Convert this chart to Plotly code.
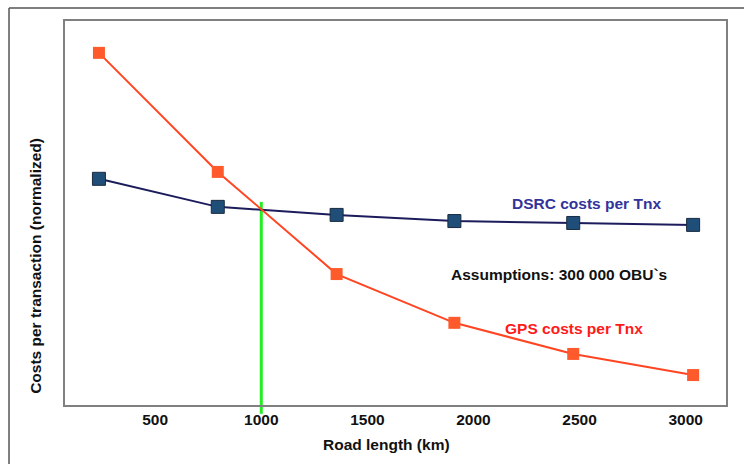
import plotly.graph_objects as go

road_length = [235, 795, 1355, 1910, 2470, 3035]
gps_costs = [91.7, 60.7, 34.1, 21.4, 13.3, 7.8]
dsrc_costs = [58.9, 51.6, 49.5, 47.9, 47.4, 46.9]
x_ticks = [500, 1000, 1500, 2000, 2500, 3000]
breakeven_x = 1000
breakeven_y = 52.9

FONT = "Liberation Sans, Arial, sans-serif"
FS = 15.5

fig = go.Figure()
fig.add_trace(go.Scatter(
    x=road_length, y=dsrc_costs, mode="lines+markers",
    line=dict(color="#1c1c5c", width=2),
    marker=dict(symbol="square", size=13, color="#1f4f78",
                line=dict(color="#1a2a40", width=1)),
    cliponaxis=False, showlegend=False, hoverinfo="skip"))
fig.add_trace(go.Scatter(
    x=road_length, y=gps_costs, mode="lines+markers",
    line=dict(color="#ff4522", width=2),
    marker=dict(symbol="square", size=12, color="#ff5a2c",
                line=dict(color="#ff5a2c", width=0)),
    cliponaxis=False, showlegend=False, hoverinfo="skip"))

# break-even vertical line
fig.add_shape(type="line", xref="x", yref="paper",
              x0=breakeven_x, x1=breakeven_x, y0=-0.023, y1=breakeven_y / 100,
              line=dict(color="#22ee22", width=3), layer="below")

# outer frame
fig.add_shape(type="line", xref="paper", yref="paper", x0=-0.0847, x1=1.03,
              y0=1.0339, y1=1.0339, line=dict(color="#555555", width=1.5))
fig.add_shape(type="line", xref="paper", yref="paper", x0=-0.0847, x1=-0.0847,
              y0=1.0339, y1=-0.16, line=dict(color="#555555", width=1.5))

fig.add_annotation(x=0.789, y=0.525, xref="paper", yref="paper",
                   xanchor="center", yanchor="middle",
                   text="<b>DSRC costs per Tnx</b>", showarrow=False,
                   font=dict(family=FONT, size=FS, color="#33339a"))
fig.add_annotation(x=0.747, y=0.341, xref="paper", yref="paper",
                   xanchor="center", yanchor="middle",
                   text="<b>Assumptions: 300 000 OBU`s</b>", showarrow=False,
                   font=dict(family=FONT, size=FS, color="#111111"))
fig.add_annotation(x=0.770, y=0.198, xref="paper", yref="paper",
                   xanchor="center", yanchor="middle",
                   text="<b>GPS costs per Tnx</b>", showarrow=False,
                   font=dict(family=FONT, size=FS, color="#ff1a1a"))
fig.add_annotation(x=0.486, y=-0.104, xref="paper", yref="paper",
                   xanchor="center", yanchor="middle",
                   text="<b>Road length (km)</b>", showarrow=False,
                   font=dict(family=FONT, size=FS, color="#111111"))
fig.add_annotation(x=-0.045, y=0.363, xref="paper", yref="paper",
                   xanchor="center", yanchor="middle", textangle=-90,
                   text="<b>Costs per transaction (normalized)</b>", showarrow=False,
                   font=dict(family=FONT, size=FS, color="#111111"))

fig.update_layout(
    width=744, height=464,
    margin=dict(l=65, r=18, t=21, b=59, autoexpand=False),
    paper_bgcolor="white", plot_bgcolor="white",
    font=dict(family=FONT, size=FS, color="#111111"),
    hovermode=False,
)
fig.update_xaxes(range=[75, 3190], tickvals=x_ticks,
                 ticktext=[f"<b>{v}</b>" for v in x_ticks],
                 showgrid=False, zeroline=False, showline=True, mirror=True,
                 linecolor="#808080", linewidth=1.5, ticks="", ticklen=0,
                 automargin=False,
                 tickfont=dict(family=FONT, size=FS, color="#111111"))
fig.update_yaxes(range=[0, 100], showticklabels=False, showgrid=False,
                 zeroline=False, showline=True, mirror=True, automargin=False,
                 linecolor="#808080", linewidth=1.5, ticks="")

fig.write_html("out.html", config={"displayModeBar": False},
               post_script="document.body.style.margin='0px';document.body.style.overflow='hidden';")
